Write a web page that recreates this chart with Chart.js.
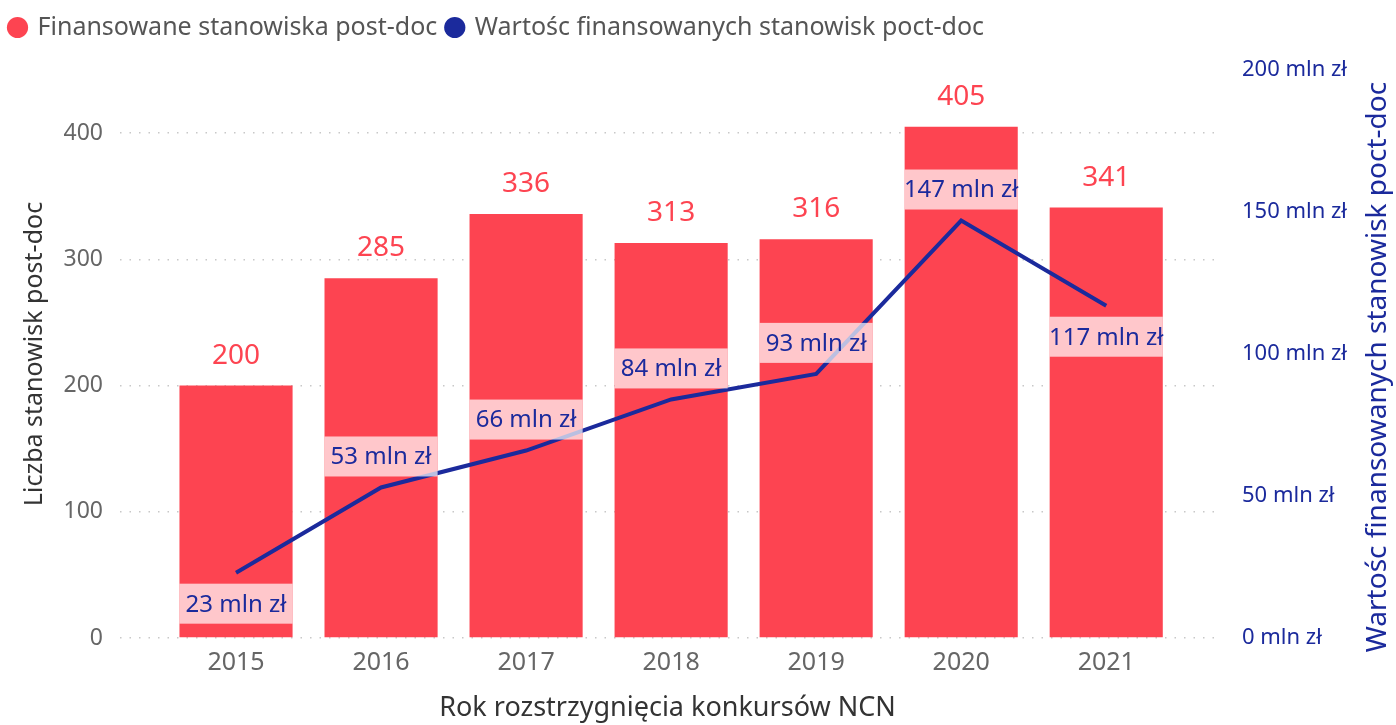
<!DOCTYPE html>
<html>
<head>
<meta charset="utf-8">
<script src="https://cdn.jsdelivr.net/npm/chart.js@4/dist/chart.umd.min.js"></script>
<style>
  body { margin: 0; background: #fff; }
  #wrap { width: 1396px; height: 725px; }
</style>
</head>
<body>
<div id="wrap"><canvas id="chart" width="1396" height="725"></canvas></div>
<script>
// Finansowane stanowiska post-doc (NCN) - bar + line chart

const years = [2015, 2016, 2017, 2018, 2019, 2020, 2021];
const positions = [200, 285, 336, 313, 316, 405, 341];      // liczba stanowisk
const valueMln = [23, 53, 66, 84, 93, 147, 117];           // mln zł
const leftTicks = [0, 100, 200, 300, 400];
const rightTicks = [0, 50, 100, 150, 200];

const RED = '#FD4451';
const BLUE = '#1B2A9C';
const FONT = '"Segoe UI", "Noto Sans", sans-serif';
const RIGHT_TITLE = 'Wartośc finansowanych stanowisk poct-doc';

// where the value label of the line sits (above/below its point)
const lineLabelSide = ['below', 'above', 'above', 'above', 'above', 'above', 'below'];

// extra room under the legend
const legendSpace = {
    id: 'legendSpace',
    beforeInit(chart) {
        const legend = chart.legend;
        if (!legend) return;
        const fit = legend.fit;
        legend.fit = function () {
            fit.call(this);
            this.height += 20;
        };
    }
};

const labelsPlugin = {
    id: 'valueLabels',
    afterDatasetsDraw(chart) {
        const ctx = chart.ctx;
        const barMeta = chart.getDatasetMeta(0);
        const lineMeta = chart.getDatasetMeta(1);
        ctx.save();
        ctx.textAlign = 'center';
        ctx.textBaseline = 'middle';

        // bar values on top
        ctx.font = '28px ' + FONT;
        ctx.fillStyle = RED;
        barMeta.data.forEach((bar, i) => {
            ctx.fillText(String(positions[i]), bar.x, bar.y - 30);
        });

        // line values in a light box across the bar
        ctx.font = '24px ' + FONT;
        lineMeta.data.forEach((pt, i) => {
            const bar = barMeta.data[i];
            const w = bar.width;
            const h = 40;
            const top = lineLabelSide[i] === 'below' ? pt.y + 11 : pt.y - 11 - h;
            ctx.fillStyle = 'rgba(255,255,255,0.7)';
            ctx.fillRect(bar.x - w / 2, top, w, h);
            ctx.fillStyle = BLUE;
            ctx.fillText(valueMln[i] + ' mln zł', bar.x, top + h / 2 + 1);
        });

        // right axis title, reading bottom to top
        const area = chart.chartArea;
        ctx.translate(1378, (area.top + area.bottom) / 2 + 13);
        ctx.rotate(-Math.PI / 2);
        ctx.font = '28px ' + FONT;
        ctx.fillStyle = BLUE;
        ctx.fillText(RIGHT_TITLE, 0, 0);
        ctx.restore();
    }
};

new Chart(document.getElementById('chart'), {
    type: 'bar',
    data: {
        datasets: [{
            type: 'bar',
            label: 'Finansowane stanowiska post-doc',
            data: years.map((y, i) => ({ x: y, y: positions[i] })),
            backgroundColor: RED,
            borderWidth: 0,
            barPercentage: 0.78,
            categoryPercentage: 1,
            yAxisID: 'y',
            order: 1
        }, {
            type: 'line',
            label: RIGHT_TITLE,
            data: years.map((y, i) => ({ x: y, y: valueMln[i] })),
            borderColor: BLUE,
            backgroundColor: BLUE,
            borderWidth: 4,
            pointRadius: 0,
            tension: 0,
            yAxisID: 'y1',
            order: 0
        }]
    },
    options: {
        responsive: false,
        animation: false,
        layout: { padding: { top: 5, left: 0, right: 0, bottom: 0 } },
        plugins: {
            tooltip: { enabled: false },
            legend: {
                position: 'top',
                align: 'start',
                labels: {
                    usePointStyle: true,
                    pointStyle: 'circle',
                    boxWidth: 15,
                    boxHeight: 15,
                    padding: 10,
                    color: '#555',
                    font: { family: FONT, size: 25 },
                    sort: (a, b) => a.datasetIndex - b.datasetIndex,
                    generateLabels(chart) {
                        const items = Chart.defaults.plugins.legend.labels.generateLabels(chart);
                        items.forEach(it => { it.lineWidth = 0; it.strokeStyle = it.fillStyle; });
                        return items;
                    }
                }
            }
        },
        scales: {
            x: {
                type: 'linear',
                offset: false,
                min: 2014.2,
                max: 2021.75,
                afterBuildTicks(scale) { scale.ticks = years.map(v => ({ value: v })); },
                ticks: {
                    callback: v => String(v),
                    color: '#666',
                    padding: 10,
                    font: { family: FONT, size: 25 }
                },
                grid: { display: false, drawTicks: false },
                border: { display: false },
                title: {
                    display: true,
                    text: 'Rok rozstrzygnięcia konkursów NCN',
                    color: '#333',
                    font: { family: FONT, size: 27 },
                    padding: { top: 4, bottom: 0 }
                },
                afterFit(scale) { scale.height = 87; }
            },
            y: {
                position: 'left',
                min: 0,
                max: 450,
                afterBuildTicks(scale) { scale.ticks = leftTicks.map(v => ({ value: v })); },
                ticks: {
                    color: '#666',
                    padding: 17,
                    font: { family: FONT, size: 23 }
                },
                grid: {
                    color: '#c8c8c8',
                    lineWidth: 1.5,
                    drawTicks: false
                },
                border: { display: false, dash: [1.5, 8] },
                title: {
                    display: true,
                    text: 'Liczba stanowisk post-doc',
                    color: '#333',
                    font: { family: FONT, size: 25 },
                    padding: { top: 20, bottom: 0 }
                },
                afterFit(scale) { scale.width = 120; }
            },
            y1: {
                position: 'right',
                min: 0,
                max: 200,
                afterBuildTicks(scale) { scale.ticks = rightTicks.map(v => ({ value: v })); },
                ticks: {
                    callback: v => v + ' mln zł',
                    color: BLUE,
                    padding: 27,
                    font: { family: FONT, size: 22 }
                },
                grid: { display: false, drawTicks: false },
                border: { display: false },
                afterFit(scale) { scale.width = 181; }
            }
        }
    },
    plugins: [legendSpace, labelsPlugin]
});
</script>
</body>
</html>
